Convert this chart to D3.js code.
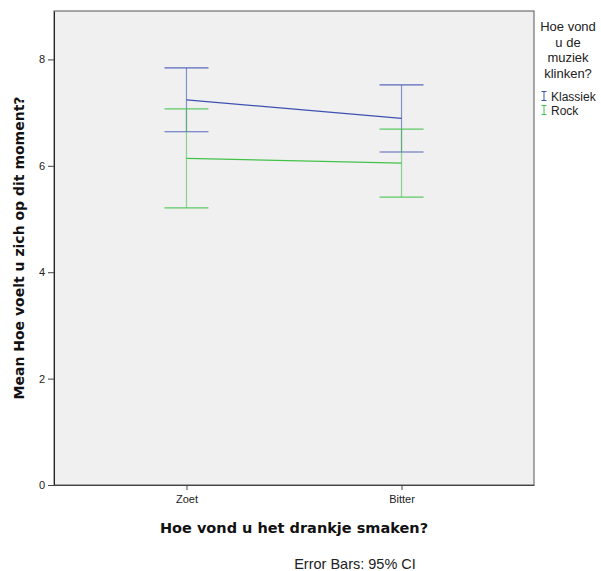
<!DOCTYPE html>
<html>
<head>
<meta charset="utf-8">
<script src="https://cdn.jsdelivr.net/npm/d3@7"></script>
<style>
  body { margin: 0; background: #fff; }
  svg { display: block; font-family: "Liberation Sans", Arial, sans-serif; }
</style>
</head>
<body>
<div id="chart"></div>
<script>
// categorieën en reeksen
const smaken = ["Zoet", "Bitter"];
const muziek = ["Klassiek", "Rock"];
const kleuren = ["#3d51b3", "#43c24a"];
const gemiddelde = { Klassiek: [7.24, 6.89], Rock: [6.14, 6.05] };
const ondergrens = { Klassiek: [6.64, 6.26], Rock: [5.21, 5.41] };
const bovengrens = { Klassiek: [7.84, 7.52], Rock: [7.07, 6.69] };
const yTicks = [0, 2, 4, 6, 8];

const width = 601, height = 571;
const margin = { top: 11, right: 67, bottom: 86, left: 54 };

const x = d3.scalePoint()
  .domain(smaken)
  .range([margin.left, width - margin.right])
  .padding(0.616);

const y = d3.scaleLinear()
  .domain([0, 8.91])
  .range([height - margin.bottom, margin.top]);

const color = d3.scaleOrdinal().domain(muziek).range(kleuren);

const svg = d3.select("#chart").append("svg")
  .attr("width", width)
  .attr("height", height);

// plotgebied
svg.append("rect")
  .attr("x", margin.left)
  .attr("y", margin.top)
  .attr("width", width - margin.right - margin.left)
  .attr("height", height - margin.bottom - margin.top)
  .attr("fill", "#f0f0f0")
  .attr("stroke", "#555")
  .attr("stroke-width", 1);

// assen
const yAxis = svg.append("g")
  .attr("transform", `translate(${margin.left},0)`)
  .call(d3.axisLeft(y).tickValues(yTicks).tickSize(6).tickSizeOuter(0).tickPadding(3));
yAxis.select(".domain").attr("stroke", "#222");
yAxis.selectAll("line").attr("stroke", "#444");
yAxis.selectAll("text").style("font-size", "11px").attr("fill", "#222");

const xAxis = svg.append("g")
  .attr("transform", `translate(0,${height - margin.bottom})`)
  .call(d3.axisBottom(x).tickSize(5).tickSizeOuter(0).tickPadding(5));
xAxis.select(".domain").attr("stroke", "#444");
xAxis.selectAll("line").attr("stroke", "#444");
xAxis.selectAll("text").style("font-size", "11px").attr("fill", "#222");

// foutbalken en lijnen
const cap = 22;
muziek.forEach(m => {
  const c = color(m);
  const g = svg.append("g");
  const rows = smaken.map((s, i) => ({ s, mean: gemiddelde[m][i], lo: ondergrens[m][i], hi: bovengrens[m][i] }));

  g.selectAll(".whisker").data(rows).join("line")
    .attr("x1", d => x(d.s)).attr("x2", d => x(d.s))
    .attr("y1", d => y(d.lo)).attr("y2", d => y(d.hi))
    .attr("stroke", c).attr("stroke-opacity", 0.6).attr("stroke-width", 1.2);

  ["lo", "hi"].forEach(k => {
    g.selectAll(".cap-" + k).data(rows).join("line")
      .attr("x1", d => x(d.s) - cap).attr("x2", d => x(d.s) + cap)
      .attr("y1", d => y(d[k])).attr("y2", d => y(d[k]))
      .attr("stroke", c).attr("stroke-opacity", 0.85).attr("stroke-width", 1.2);
  });

  g.append("path")
    .datum(rows)
    .attr("fill", "none")
    .attr("stroke", c)
    .attr("stroke-width", 1.3)
    .attr("d", d3.line().x(d => x(d.s)).y(d => y(d.mean)));
});

// titels
svg.append("text")
  .attr("transform", `translate(24,${(margin.top + height - margin.bottom) / 2}) rotate(-90)`)
  .attr("text-anchor", "middle")
  .style("font-family", "'DejaVu Sans', sans-serif")
  .style("font-size", "14px").style("font-weight", "bold")
  .attr("fill", "#111")
  .text("Mean Hoe voelt u zich op dit moment?");

svg.append("text")
  .attr("x", (margin.left + width - margin.right) / 2)
  .attr("y", 533)
  .attr("text-anchor", "middle")
  .style("font-family", "'DejaVu Sans', sans-serif")
  .style("font-size", "14.5px").style("font-weight", "bold")
  .attr("fill", "#111")
  .text("Hoe vond u het drankje smaken?");

svg.append("text")
  .attr("x", 355)
  .attr("y", 569)
  .attr("text-anchor", "middle")
  .style("font-size", "14.5px")
  .attr("fill", "#222")
  .text("Error Bars: 95% CI");

// legenda
const legendTitle = ["Hoe vond", "u de", "muziek", "klinken?"];
svg.append("g").selectAll("text").data(legendTitle).join("text")
  .attr("x", 568)
  .attr("y", (d, i) => 31 + i * 15.5)
  .attr("text-anchor", "middle")
  .style("font-size", "13px")
  .attr("fill", "#222")
  .text(d => d);

const leg = svg.append("g").selectAll("g").data(muziek).join("g")
  .attr("transform", (d, i) => `translate(544,${96 + i * 14})`);
leg.append("line").attr("x1", 0).attr("x2", 0).attr("y1", -4.5).attr("y2", 4.5).attr("stroke", d => color(d));
leg.append("line").attr("x1", -2.5).attr("x2", 2.5).attr("y1", -4.5).attr("y2", -4.5).attr("stroke", d => color(d));
leg.append("line").attr("x1", -2.5).attr("x2", 2.5).attr("y1", 4.5).attr("y2", 4.5).attr("stroke", d => color(d));
leg.append("text")
  .attr("x", 7).attr("y", 4.5)
  .style("font-size", "12px")
  .attr("fill", "#222")
  .text(d => d);
</script>
</body>
</html>
